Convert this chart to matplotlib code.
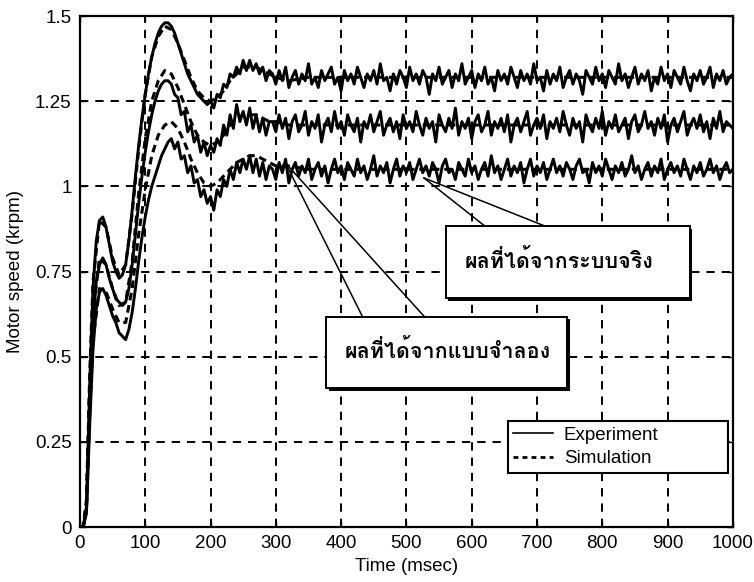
import numpy as np
import matplotlib
matplotlib.use("Agg")
import matplotlib.pyplot as plt
from matplotlib import font_manager, ft2font
from matplotlib.patches import Rectangle
from matplotlib.lines import Line2D

# ---- measured speed (krpm), sampled every 5 ms from 0 to 1000 ms ----
exp_time = np.arange(0, 1001, 5)

exp_high = [
    0.00, 0.00, 0.06, 0.42, 0.70, 0.84, 0.90, 0.91, 0.88, 0.83,
    0.78, 0.75, 0.73, 0.74, 0.77, 0.84, 0.93, 1.03, 1.12, 1.20,
    1.27, 1.33, 1.38, 1.42, 1.45, 1.47, 1.48, 1.48, 1.47, 1.45,
    1.42, 1.39, 1.36, 1.33, 1.31, 1.29, 1.27, 1.26, 1.25, 1.24,
    1.25, 1.23, 1.27, 1.26, 1.30, 1.29, 1.33, 1.32, 1.35, 1.33,
    1.37, 1.34, 1.37, 1.34, 1.36, 1.33, 1.35, 1.31, 1.34,
    1.33, 1.30, 1.34, 1.31, 1.35, 1.29, 1.32, 1.34, 1.30, 1.33,
    1.31, 1.36, 1.30, 1.32, 1.29, 1.34, 1.31, 1.33, 1.35, 1.30,
    1.32, 1.28, 1.34, 1.31, 1.33, 1.30, 1.35, 1.32, 1.29, 1.33,
    1.31, 1.34, 1.30, 1.36, 1.31, 1.32, 1.28, 1.33, 1.30, 1.34,
    1.32, 1.29, 1.35, 1.31, 1.33, 1.30, 1.34, 1.32, 1.27, 1.33,
    1.31, 1.35, 1.30, 1.32, 1.34, 1.29, 1.33, 1.31, 1.36, 1.30,
    1.32, 1.34, 1.29, 1.33, 1.31, 1.35, 1.30, 1.32, 1.28, 1.34,
    1.31, 1.33, 1.30, 1.35, 1.32, 1.29, 1.34, 1.31, 1.33, 1.30,
    1.36, 1.31, 1.32, 1.28, 1.34, 1.30, 1.33, 1.31, 1.35, 1.29,
    1.32, 1.34, 1.30, 1.33, 1.31, 1.27, 1.34, 1.32, 1.30, 1.35,
    1.31, 1.33, 1.29, 1.34, 1.32, 1.30, 1.36, 1.31, 1.33, 1.29,
    1.32, 1.35, 1.30, 1.33, 1.31, 1.34, 1.28, 1.32, 1.30, 1.35,
    1.31, 1.33, 1.29, 1.34, 1.32, 1.30, 1.35, 1.31, 1.28, 1.33,
    1.31, 1.34, 1.30, 1.32, 1.35, 1.29, 1.33, 1.31, 1.34, 1.30,
    1.32, 1.33,
]

exp_mid = [
    0.00, 0.00, 0.05, 0.36, 0.60, 0.72, 0.77, 0.79, 0.77, 0.73,
    0.70, 0.67, 0.66, 0.65, 0.66, 0.70, 0.77, 0.86, 0.95, 1.03,
    1.10, 1.16, 1.21, 1.25, 1.28, 1.30, 1.31, 1.31, 1.30, 1.27,
    1.26, 1.21, 1.22, 1.16, 1.18, 1.13, 1.15, 1.10, 1.13, 1.09,
    1.12, 1.10, 1.14, 1.12, 1.18, 1.15, 1.21, 1.17, 1.24, 1.19,
    1.22, 1.18, 1.23, 1.17, 1.21, 1.16, 1.20, 1.15, 1.19,
    1.19, 1.16, 1.21, 1.17, 1.20, 1.14, 1.19, 1.21, 1.16, 1.18,
    1.22, 1.15, 1.19, 1.17, 1.21, 1.13, 1.18, 1.20, 1.16, 1.22,
    1.17, 1.19, 1.15, 1.21, 1.18, 1.16, 1.20, 1.13, 1.19, 1.17,
    1.21, 1.16, 1.19, 1.22, 1.15, 1.18, 1.20, 1.16, 1.19, 1.14,
    1.21, 1.17, 1.19, 1.16, 1.22, 1.18, 1.15, 1.20, 1.17, 1.19,
    1.13, 1.21, 1.18, 1.16, 1.20, 1.17, 1.23, 1.15, 1.19, 1.17,
    1.20, 1.14, 1.19, 1.21, 1.16, 1.18, 1.22, 1.15, 1.19, 1.17,
    1.20, 1.16, 1.21, 1.13, 1.18, 1.20, 1.16, 1.19, 1.22, 1.15,
    1.18, 1.20, 1.17, 1.21, 1.14, 1.19, 1.17, 1.20, 1.16, 1.22,
    1.18, 1.15, 1.20, 1.17, 1.19, 1.13, 1.21, 1.18, 1.16, 1.20,
    1.17, 1.22, 1.15, 1.19, 1.17, 1.21, 1.16, 1.18, 1.20, 1.14,
    1.19, 1.21, 1.16, 1.18, 1.22, 1.17, 1.19, 1.15, 1.20, 1.17,
    1.21, 1.13, 1.18, 1.20, 1.16, 1.19, 1.22, 1.15, 1.18, 1.20,
    1.17, 1.21, 1.16, 1.19, 1.14, 1.20, 1.17, 1.22, 1.16, 1.19,
    1.18, 1.17,
]

exp_low = [
    0.00, 0.00, 0.04, 0.30, 0.52, 0.64, 0.69, 0.70, 0.68, 0.65,
    0.62, 0.60, 0.57, 0.56, 0.55, 0.58, 0.63, 0.70, 0.78, 0.85,
    0.91, 0.96, 1.00, 1.03, 1.06, 1.09, 1.11, 1.13, 1.14, 1.11,
    1.13, 1.08, 1.09, 1.04, 1.06, 1.01, 1.02, 0.97, 0.99, 0.95,
    0.97, 0.93, 0.99, 0.97, 1.02, 1.00, 1.05, 1.02, 1.07, 1.04,
    1.08, 1.05, 1.09, 1.04, 1.08, 1.03, 1.07, 1.02, 1.06,
    1.05, 1.02, 1.07, 1.04, 1.08, 1.01, 1.05, 1.07, 1.03, 1.06,
    1.04, 1.08, 1.02, 1.05, 1.07, 1.03, 1.06, 1.01, 1.05, 1.08,
    1.04, 1.06, 1.02, 1.07, 1.05, 1.03, 1.08, 1.04, 1.06, 1.02,
    1.05, 1.09, 1.03, 1.06, 1.04, 1.07, 1.01, 1.05, 1.08, 1.03,
    1.06, 1.04, 1.07, 1.02, 1.05, 1.08, 1.04, 1.06, 1.03, 1.07,
    1.05, 1.01, 1.06, 1.08, 1.04, 1.05, 1.02, 1.07, 1.05, 1.03,
    1.08, 1.04, 1.06, 1.02, 1.05, 1.07, 1.03, 1.09, 1.04, 1.06,
    1.02, 1.05, 1.08, 1.03, 1.06, 1.04, 1.07, 1.01, 1.05, 1.08,
    1.03, 1.06, 1.04, 1.07, 1.02, 1.05, 1.08, 1.04, 1.06, 1.03,
    1.07, 1.05, 1.02, 1.06, 1.08, 1.04, 1.05, 1.01, 1.07, 1.04,
    1.06, 1.03, 1.08, 1.05, 1.02, 1.06, 1.04, 1.07, 1.03, 1.05,
    1.09, 1.04, 1.06, 1.02, 1.05, 1.07, 1.03, 1.06, 1.04, 1.08,
    1.02, 1.05, 1.07, 1.04, 1.06, 1.03, 1.08, 1.05, 1.02, 1.06,
    1.04, 1.07, 1.03, 1.05, 1.08, 1.04, 1.06, 1.02, 1.05, 1.07,
    1.04, 1.05,
]

# ---- simulated speed (krpm) ----
sim_time = [0, 5, 10, 15, 20, 30, 40, 50, 60, 70, 80, 90, 100, 110, 120,
            130, 140, 150, 160, 170, 180, 190, 200, 210, 220, 230, 240,
            250, 260, 270, 280, 290, 300, 320, 350, 400, 1000]

sim_high = [0.00, 0.00, 0.08, 0.45, 0.72, 0.90, 0.88, 0.79, 0.74, 0.77,
            0.92, 1.11, 1.27, 1.38, 1.44, 1.47, 1.46, 1.42, 1.37, 1.32,
            1.28, 1.26, 1.25, 1.26, 1.28, 1.31, 1.33, 1.35, 1.35, 1.35,
            1.34, 1.33, 1.32, 1.31, 1.32, 1.32, 1.32]
sim_mid = [0.00, 0.00, 0.07, 0.40, 0.63, 0.79, 0.77, 0.70, 0.65, 0.66,
           0.78, 0.98, 1.14, 1.25, 1.31, 1.34, 1.33, 1.29, 1.24, 1.19,
           1.15, 1.13, 1.12, 1.13, 1.15, 1.18, 1.20, 1.21, 1.21, 1.21,
           1.20, 1.19, 1.19, 1.18, 1.18, 1.18, 1.18]
sim_low = [0.00, 0.00, 0.05, 0.34, 0.55, 0.70, 0.69, 0.64, 0.60, 0.60,
           0.70, 0.86, 0.99, 1.09, 1.15, 1.18, 1.19, 1.17, 1.13, 1.08,
           1.04, 1.01, 1.00, 1.01, 1.03, 1.05, 1.07, 1.08, 1.09, 1.09,
           1.08, 1.07, 1.06, 1.06, 1.05, 1.05, 1.05]

x_ticks = [0, 100, 200, 300, 400, 500, 600, 700, 800, 900, 1000]
y_ticks = [0, 0.25, 0.5, 0.75, 1.0, 1.25, 1.5]
y_ticklabels = ["0", "0.25", "0.5", "0.75", "1", "1.25", "1.5"]

label_real = "ผลที่ได้จากระบบจริง"
label_model = "ผลที่ได้จากแบบจำลอง"


def find_thai_family():
    """Pick an installed family that has Thai glyphs, preferring bold faces."""
    best = None
    for f in font_manager.fontManager.ttflist:
        try:
            cmap = ft2font.FT2Font(f.fname).get_charmap()
        except Exception:
            continue
        if 0x0E1C in cmap and 0x0E08 in cmap:
            score = 1 if str(f.weight) in ("bold", "700") else 0
            if best is None or score > best[0]:
                best = (score, f.name)
    return best[1] if best else "DejaVu Sans"


plt.rcParams["font.family"] = ["Liberation Sans", "DejaVu Sans"]
plt.rcParams["lines.scale_dashes"] = False

thai_family = find_thai_family()

fig = plt.figure(figsize=(7.54, 5.82), dpi=100)
ax = fig.add_axes([0.106, 0.0945, 0.866, 0.878])

ax.set_xlim(0, 1000)
ax.set_ylim(0, 1.5)
ax.set_xticks(x_ticks)
ax.set_yticks(y_ticks)
ax.set_yticklabels(y_ticklabels)
ax.tick_params(direction="in", top=True, right=True, length=4, width=1.0,
               labelsize=13.5, colors="black", pad=6)
ax.grid(True, color="black", linestyle=(0, (6, 5)), linewidth=1.4)
ax.set_axisbelow(True)
for s in ax.spines.values():
    s.set_linewidth(1.6)

ax.set_xlabel("Time (msec)", fontsize=13.5, labelpad=4)
ax.set_ylabel("Motor speed (krpm)", fontsize=13.5, labelpad=8)

for series in (exp_high, exp_mid, exp_low):
    ax.plot(exp_time, series, color="black", linewidth=2.1, zorder=4)
for series in (sim_high, sim_mid, sim_low):
    ax.plot(sim_time, series, color="black", linewidth=2.2,
            linestyle=(0, (5.5, 3.5)), zorder=5)

# legend box spanning a fixed width, entries left aligned
handles = [Line2D([], [], color="black", linewidth=1.2),
           Line2D([], [], color="black", linewidth=2.0, linestyle=(0, (3.5, 3)))]
leg = ax.legend(handles, ["Experiment", "Simulation"], loc="lower left",
                bbox_to_anchor=(0.655, 0.106, 0.337, 0.106), mode="expand",
                borderaxespad=0, fontsize=13.5,
                handlelength=2.1, handletextpad=0.6, labelspacing=0.35,
                borderpad=0.3, fancybox=False, framealpha=1)
leg.get_frame().set_edgecolor("black")
leg.get_frame().set_linewidth(1.5)
leg.set_zorder(8)

# callout boxes (axes fraction coordinates)
callouts = [
    # (x0, y0, x1, y1), wedge base xs, tip, text
    ((0.560, 0.448, 0.934, 0.589), (0.620, 0.712), (0.527, 0.683), label_real),
    ((0.377, 0.272, 0.746, 0.411), (0.433, 0.528), (0.315, 0.712), label_model),
]
px = 1.0 / 653
py = 1.0 / 511
for (x0, y0, x1, y1), (bx0, bx1), (tx, ty), text in callouts:
    for bx in (bx0, bx1):
        ax.plot([bx, tx], [y1, ty], color="black", linewidth=1.1,
                transform=ax.transAxes, zorder=3)
    ax.add_patch(Rectangle((x0 + 2.5 * px, y0 - 2.5 * py), x1 - x0, y1 - y0,
                           transform=ax.transAxes, facecolor="black",
                           edgecolor="none", zorder=6))
    ax.add_patch(Rectangle((x0, y0), x1 - x0, y1 - y0, transform=ax.transAxes,
                           facecolor="white", edgecolor="black",
                           linewidth=1.4, zorder=7))
    ax.text(x0 + 19 * px, (y0 + y1) / 2 + 2 * py, text, transform=ax.transAxes,
            ha="left", va="center", fontsize=15.5, fontweight="bold",
            family=[thai_family, "DejaVu Sans"], zorder=8)

fig.savefig("out.png", dpi=100)
